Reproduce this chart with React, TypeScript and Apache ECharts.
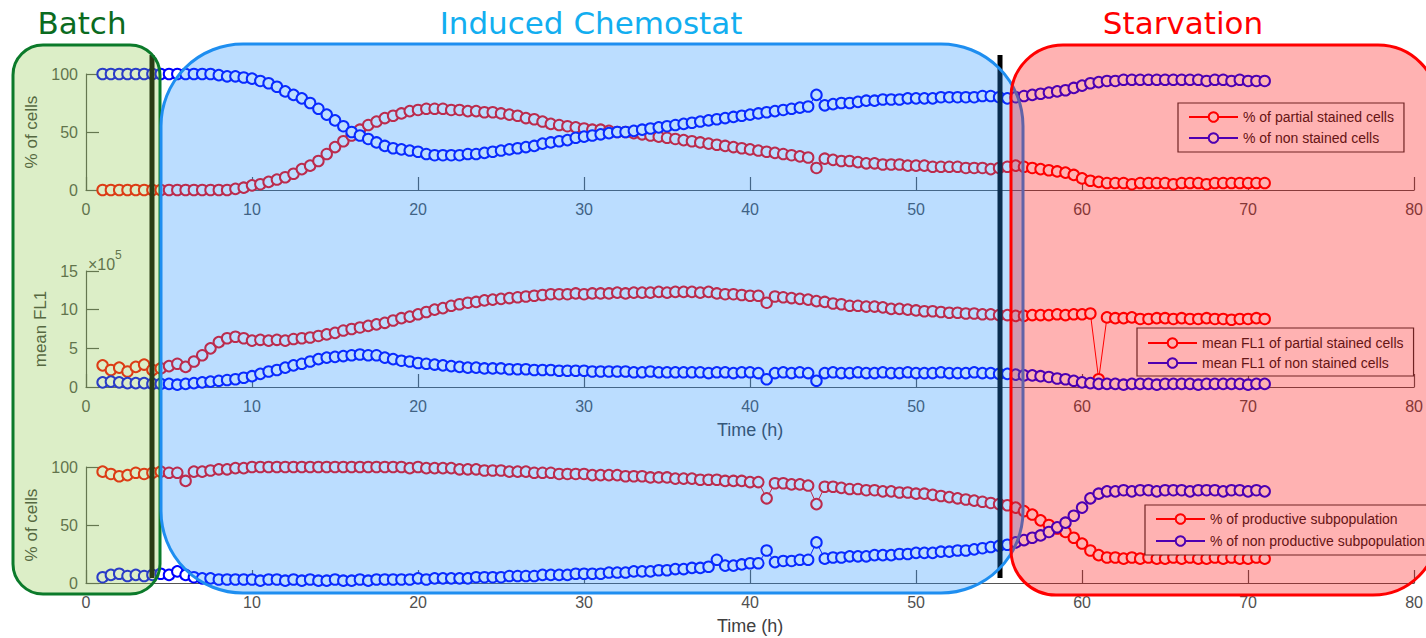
import { useEffect, useRef } from "react";
import * as echarts from "echarts";

// Sampling times (h)
const TIME = [
  1, 1.5, 2, 2.5, 3, 3.5, 4, 4.5, 5, 5.5,
  6, 6.5, 7, 7.5, 8, 8.5, 9, 9.5, 10, 10.5,
  11, 11.5, 12, 12.5, 13, 13.5, 14, 14.5, 15, 15.5,
  16, 16.5, 17, 17.5, 18, 18.5, 19, 19.5, 20, 20.5,
  21, 21.5, 22, 22.5, 23, 23.5, 24, 24.5, 25, 25.5,
  26, 26.5, 27, 27.5, 28, 28.5, 29, 29.5, 30, 30.5,
  31, 31.5, 32, 32.5, 33, 33.5, 34, 34.5, 35, 35.5,
  36, 36.5, 37, 37.5, 38, 38.5, 39, 39.5, 40, 40.5,
  41, 41.5, 42, 42.5, 43, 43.5, 44, 44.5, 45, 45.5,
  46, 46.5, 47, 47.5, 48, 48.5, 49, 49.5, 50, 50.5,
  51, 51.5, 52, 52.5, 53, 53.5, 54, 54.5, 55, 55.5,
  56, 56.5, 57, 57.5, 58, 58.5, 59, 59.5, 60, 60.5,
  61, 61.5, 62, 62.5, 63, 63.5, 64, 64.5, 65, 65.5,
  66, 66.5, 67, 67.5, 68, 68.5, 69, 69.5, 70, 70.5,
  71,
];

// Top panel: % of cells
const PARTIAL_STAINED_PCT = [
  0, 0, 0, 0, 0, 0, 0, 0, 0, 0,
  0, 0, 0, 0, 0, 0, 1, 2, 4, 5,
  7, 9, 11, 14, 18, 21, 25, 31, 37, 42,
  47, 52, 56, 59, 62, 64, 66, 68, 69, 70,
  70, 70, 69, 69, 68, 68, 67, 67, 66, 65,
  64, 62, 61, 59, 57, 56, 55, 54, 53, 52,
  52, 51, 50, 50, 49, 48, 47, 46, 45, 44,
  43, 42, 41, 40, 39, 38, 37, 36, 35, 34,
  33, 32, 31, 30, 29, 28, 19, 27, 26, 25,
  25, 24, 23, 23, 22, 22, 22, 21, 21, 21,
  20, 20, 20, 20, 19, 19, 19, 18, 19, 20,
  21, 20, 19, 18, 17, 16, 15, 13, 10, 8,
  7, 6, 6, 6, 5, 6, 6, 6, 6, 5,
  6, 6, 6, 5, 6, 6, 6, 6, 6, 6,
  6,
];
const NON_STAINED_PCT = [
  100, 100, 100, 100, 100, 100, 100, 100, 100, 100,
  100, 100, 100, 100, 99, 98, 98, 97, 96, 94,
  92, 89, 85, 82, 79, 75, 70, 65, 60, 55,
  50, 47, 44, 41, 38, 36, 35, 34, 33, 31,
  30, 30, 30, 30, 31, 31, 32, 33, 34, 35,
  36, 37, 38, 40, 41, 42, 43, 45, 46, 47,
  48, 49, 50, 50, 51, 52, 53, 54, 55, 56,
  57, 58, 59, 60, 61, 62, 63, 64, 65, 66,
  67, 68, 69, 70, 71, 72, 82, 73, 74, 75,
  75, 76, 77, 77, 78, 78, 78, 79, 79, 79,
  79, 80, 80, 80, 80, 80, 81, 81, 80, 79,
  80, 81, 82, 83, 84, 85, 86, 88, 90, 92,
  93, 94, 94, 95, 95, 95, 95, 95, 95, 95,
  95, 95, 95, 94, 95, 95, 94, 95, 94, 94,
  94,
];

// Middle panel: mean FL1 (x10^5)
const PARTIAL_STAINED_FL1 = [
  2.8, 2.2, 2.5, 2.0, 2.6, 2.9, 2.2, 2.4, 2.7, 3.0,
  2.6, 3.3, 4.1, 5.0, 5.8, 6.3, 6.5, 6.3, 6.0, 6.1,
  6.0, 6.1, 6.0, 6.2, 6.3, 6.4, 6.6, 6.8, 7.0, 7.3,
  7.5, 7.7, 7.9, 8.1, 8.3, 8.6, 8.9, 9.1, 9.4, 9.7,
  10.0, 10.2, 10.5, 10.7, 10.9, 11.0, 11.2, 11.3, 11.4, 11.5,
  11.6, 11.7, 11.8, 11.9, 12.0, 12.0, 12.0, 12.1, 12.0, 12.1,
  12.1, 12.1, 12.2, 12.1, 12.2, 12.2, 12.2, 12.3, 12.2, 12.3,
  12.3, 12.3, 12.2, 12.3, 12.1, 12.0, 12.0, 11.9, 11.8, 11.8,
  10.9, 11.7, 11.6, 11.5, 11.4, 11.3, 11.1, 11.0, 10.8, 10.7,
  10.5, 10.5, 10.4, 10.4, 10.3, 10.1, 10.1, 10.0, 9.9, 9.8,
  9.8, 9.7, 9.6, 9.6, 9.5, 9.5, 9.4, 9.4, 9.3, 9.3,
  9.2, 9.2, 9.3, 9.3, 9.3, 9.4, 9.3, 9.4, 9.4, 9.5,
  1.0, 9.0, 8.9, 8.9, 9.0, 8.8, 8.8, 8.9, 8.9, 8.8,
  8.9, 8.8, 8.8, 8.9, 8.8, 8.8, 8.7, 8.8, 8.8, 8.9,
  8.8,
];
const NON_STAINED_FL1 = [
  0.6, 0.7, 0.6, 0.5, 0.5, 0.5, 0.4, 0.4, 0.4, 0.3,
  0.4, 0.5, 0.6, 0.7, 0.8, 0.9, 1.0, 1.2, 1.4, 1.7,
  2.0, 2.2, 2.5, 2.8, 3.0, 3.3, 3.6, 3.8, 3.9, 4.0,
  4.1, 4.2, 4.1, 4.1, 3.8, 3.6, 3.4, 3.3, 3.1, 3.0,
  2.9, 2.8, 2.7, 2.6, 2.5, 2.5, 2.4, 2.4, 2.4, 2.3,
  2.3, 2.3, 2.2, 2.2, 2.2, 2.1, 2.1, 2.1, 2.1, 2.0,
  2.0, 2.0, 2.0, 2.0, 1.9, 1.9, 2.0, 1.9, 1.9, 1.9,
  1.9, 1.9, 1.9, 1.8, 1.9, 1.9, 1.8, 1.9, 1.9, 1.8,
  1.0, 1.8, 1.9, 1.8, 1.9, 1.8, 0.8, 1.8, 1.9, 1.8,
  1.8, 1.9, 1.8, 1.8, 1.9, 1.8, 1.8, 1.9, 1.8, 1.8,
  1.8, 1.9, 1.8, 1.8, 1.8, 1.9, 1.8, 1.8, 1.7, 1.7,
  1.6, 1.5, 1.5, 1.4, 1.3, 1.1, 1.0, 0.8, 0.6, 0.5,
  0.4, 0.4, 0.4, 0.3, 0.4, 0.4, 0.4, 0.3, 0.4, 0.4,
  0.4, 0.4, 0.3, 0.4, 0.4, 0.4, 0.4, 0.4, 0.3, 0.4,
  0.4,
];

// Bottom panel: % of cells
const PRODUCTIVE_PCT = [
  96, 94, 92, 93, 95, 94, 95, 96, 95, 95,
  88, 96, 96, 97, 98, 98, 99, 99, 100, 100,
  100, 100, 100, 100, 100, 100, 100, 100, 100, 100,
  100, 100, 100, 100, 100, 100, 100, 99, 100, 99,
  99, 99, 99, 98, 98, 98, 97, 97, 97, 96,
  96, 96, 95, 95, 95, 94, 94, 94, 94, 93,
  93, 93, 93, 92, 92, 92, 91, 91, 91, 90,
  90, 90, 89, 89, 89, 88, 88, 88, 87, 87,
  73, 86, 86, 85, 85, 84, 68, 83, 83, 82,
  81, 81, 80, 80, 79, 79, 78, 78, 77, 77,
  76, 75, 74, 73, 72, 71, 70, 69, 68, 67,
  65, 62, 59, 54, 50, 47, 44, 39, 34, 28,
  24, 22, 22, 21, 22, 21, 22, 21, 21, 22,
  21, 22, 21, 21, 22, 21, 22, 21, 21, 22,
  21,
];
const NON_PRODUCTIVE_PCT = [
  5, 7, 8, 6, 7, 6, 7, 8, 7, 10,
  7, 5, 4, 4, 3, 3, 3, 3, 3, 2,
  3, 3, 2, 3, 2, 3, 2, 2, 3, 2,
  2, 3, 2, 3, 3, 3, 3, 3, 4, 3,
  4, 4, 4, 4, 4, 5, 5, 5, 5, 6,
  6, 6, 6, 7, 7, 7, 7, 8, 8, 8,
  8, 9, 9, 9, 10, 10, 10, 11, 11, 12,
  12, 13, 13, 14, 20, 15, 15, 16, 17, 17,
  28, 18, 19, 19, 20, 20, 35, 21, 22, 22,
  23, 23, 23, 24, 24, 24, 25, 25, 26, 26,
  26, 27, 27, 28, 28, 29, 30, 31, 32, 33,
  35, 37, 39, 41, 44, 48, 52, 58, 65, 73,
  77, 79, 79, 80, 79, 80, 80, 79, 80, 80,
  80, 79, 80, 80, 80, 79, 80, 80, 79, 80,
  79,
];

const X_MIN = 0;
const X_MAX = 80;
const X_STEP = 10;
const PCT_MAX = 100;
const PCT_STEP = 50;
const FL1_MAX = 15;
const FL1_STEP = 5;

const FONT = "Liberation Sans";
const AXIS_COLOR = "#555555";
const LABEL_COLOR = "#505050";
const RED = "#ff0000";
const BLUE = "#0000ff";

const PLOT_LEFT = 86;
const PLOT_WIDTH = 1335;
const PLOT_HEIGHT = 116;
const GRID_TOPS = [74, 271, 467];

function xAxisFor(gridIndex: number, withName: boolean) {
  return {
    type: "value",
    gridIndex,
    min: X_MIN,
    max: X_MAX,
    interval: X_STEP,
    name: withName ? "Time (h)" : "",
    nameLocation: "middle",
    nameGap: 34,
    nameTextStyle: { fontFamily: FONT, fontSize: 18, color: "#404040", verticalAlign: "top" },
    axisLine: { show: true, onZero: false, lineStyle: { color: AXIS_COLOR, width: 1.2 } },
    axisTick: { show: true, inside: true, length: 13, lineStyle: { color: AXIS_COLOR, width: 1.2 } },
    axisLabel: { fontFamily: FONT, fontSize: 16, color: LABEL_COLOR, margin: 11 },
    splitLine: { show: false },
  };
}

function yAxisFor(gridIndex: number, name: string, max: number, step: number, gap: number) {
  return {
    type: "value",
    gridIndex,
    min: 0,
    max,
    interval: step,
    name,
    nameLocation: "middle",
    nameGap: gap,
    nameRotate: 90,
    nameTextStyle: { fontFamily: FONT, fontSize: 17, color: "#404040" },
    axisLine: { show: true, lineStyle: { color: AXIS_COLOR, width: 1.2 } },
    axisTick: { show: true, inside: true, length: 13, lineStyle: { color: AXIS_COLOR, width: 1.2 } },
    axisLabel: { fontFamily: FONT, fontSize: 16, color: LABEL_COLOR, margin: 8 },
    splitLine: { show: false },
  };
}

function seriesFor(name: string, values: number[], color: string, axisIndex: number) {
  return {
    name,
    type: "line",
    xAxisIndex: axisIndex,
    yAxisIndex: axisIndex,
    data: TIME.map((t, i) => [t, values[i]]),
    symbol: "emptyCircle",
    symbolSize: 10.5,
    showSymbol: true,
    lineStyle: { color, width: 1 },
    itemStyle: { color, borderColor: color, borderWidth: 1.4 },
    emphasis: { disabled: true },
    z: 2,
  };
}

function legendFor(names: string[], left: number, top: number, padding: number[], gap: number) {
  return {
    show: true,
    data: names,
    orient: "vertical",
    left,
    top,
    padding,
    itemGap: gap,
    itemWidth: 49,
    itemHeight: 12,
    selectedMode: false,
    backgroundColor: "#ffffff",
    borderColor: "#333333",
    borderWidth: 1.2,
    borderRadius: 0,
    textStyle: { fontFamily: FONT, fontSize: 14, color: "#222222", padding: [0, 0, 0, 0] },
    z: 4,
  };
}

export default function App() {
  const ref = useRef<HTMLDivElement>(null);

  useEffect(() => {
    if (!ref.current) return;
    const chart = echarts.init(ref.current, undefined, { renderer: "svg" });

    const option = {
      animation: false,
      backgroundColor: "#ffffff",
      grid: GRID_TOPS.map((top) => ({
        left: PLOT_LEFT,
        top,
        width: PLOT_WIDTH,
        height: PLOT_HEIGHT,
        containLabel: false,
      })),
      xAxis: [xAxisFor(0, false), xAxisFor(1, true), xAxisFor(2, true)],
      yAxis: [
        yAxisFor(0, "% of cells", PCT_MAX, PCT_STEP, 41),
        yAxisFor(1, "mean FL1", FL1_MAX, FL1_STEP, 32),
        yAxisFor(2, "% of cells", PCT_MAX, PCT_STEP, 41),
      ],
      legend: [
        legendFor(["% of partial stained cells", "% of non stained cells"], 1178, 103, [7, 10, 7, 10], 7),
        legendFor(["mean FL1 of partial stained cells", "mean FL1 of non stained cells"], 1137, 328, [8, 10, 6, 10], 6),
        legendFor(["% of productive subpopulation", "% of non productive subpopulation"], 1145, 505, [7, 10, 7, 10], 8),
      ],
      series: [
        seriesFor("% of partial stained cells", PARTIAL_STAINED_PCT, RED, 0),
        seriesFor("% of non stained cells", NON_STAINED_PCT, BLUE, 0),
        seriesFor("mean FL1 of partial stained cells", PARTIAL_STAINED_FL1, RED, 1),
        seriesFor("mean FL1 of non stained cells", NON_STAINED_FL1, BLUE, 1),
        seriesFor("% of productive subpopulation", PRODUCTIVE_PCT, RED, 2),
        seriesFor("% of non productive subpopulation", NON_PRODUCTIVE_PCT, BLUE, 2),
      ],
      graphic: {
        elements: [
          {
            type: "text",
            x: 88,
            y: 264,
            z: 3,
            style: { text: "×10", fontFamily: FONT, fontSize: 16, fill: LABEL_COLOR, verticalAlign: "middle" },
          },
          {
            type: "text",
            x: 115,
            y: 255,
            z: 3,
            style: { text: "5", fontFamily: FONT, fontSize: 12, fill: LABEL_COLOR, verticalAlign: "middle" },
          },
          {
            type: "line",
            z: 5,
            shape: { x1: 152, y1: 55, x2: 152, y2: 578 },
            style: { stroke: "#000000", lineWidth: 5 },
          },
          {
            type: "line",
            z: 5,
            shape: { x1: 1000, y1: 55, x2: 1000, y2: 578 },
            style: { stroke: "#000000", lineWidth: 5 },
          },
          {
            type: "rect",
            z: 10,
            shape: { x: 13, y: 45, width: 147, height: 549, r: 30 },
            style: { fill: "rgba(140,200,70,0.3)", stroke: "#0b7a2a", lineWidth: 3 },
          },
          {
            type: "rect",
            z: 11,
            shape: { x: 161, y: 44, width: 862, height: 549, r: 82 },
            style: { fill: "rgba(30,144,255,0.3)", stroke: "#1e8ef0", lineWidth: 3 },
          },
          {
            type: "rect",
            z: 12,
            shape: { x: 1011, y: 45, width: 427, height: 550, r: [52, 60, 65, 45] },
            style: { fill: "rgba(255,0,0,0.3)", stroke: "#ff0000", lineWidth: 3 },
          },
          {
            type: "text",
            x: 82,
            y: 23,
            z: 15,
            style: { text: "Batch", fontFamily: "DejaVu Sans", fontSize: 31, fill: "#0b6b1f", align: "center", verticalAlign: "middle" },
          },
          {
            type: "text",
            x: 591,
            y: 23,
            z: 15,
            style: { text: "Induced Chemostat", fontFamily: "DejaVu Sans", fontSize: 31, fill: "#12aef0", align: "center", verticalAlign: "middle" },
          },
          {
            type: "text",
            x: 1183,
            y: 23,
            z: 15,
            style: { text: "Starvation", fontFamily: "DejaVu Sans", fontSize: 31, fill: "#ff0000", align: "center", verticalAlign: "middle" },
          },
        ],
      },
    };

    chart.setOption(option as any);
    return () => chart.dispose();
  }, []);

  return (
    <div
      ref={ref}
      style={{ position: "absolute", left: 0, top: 0, width: 1426, height: 638 }}
    />
  );
}
